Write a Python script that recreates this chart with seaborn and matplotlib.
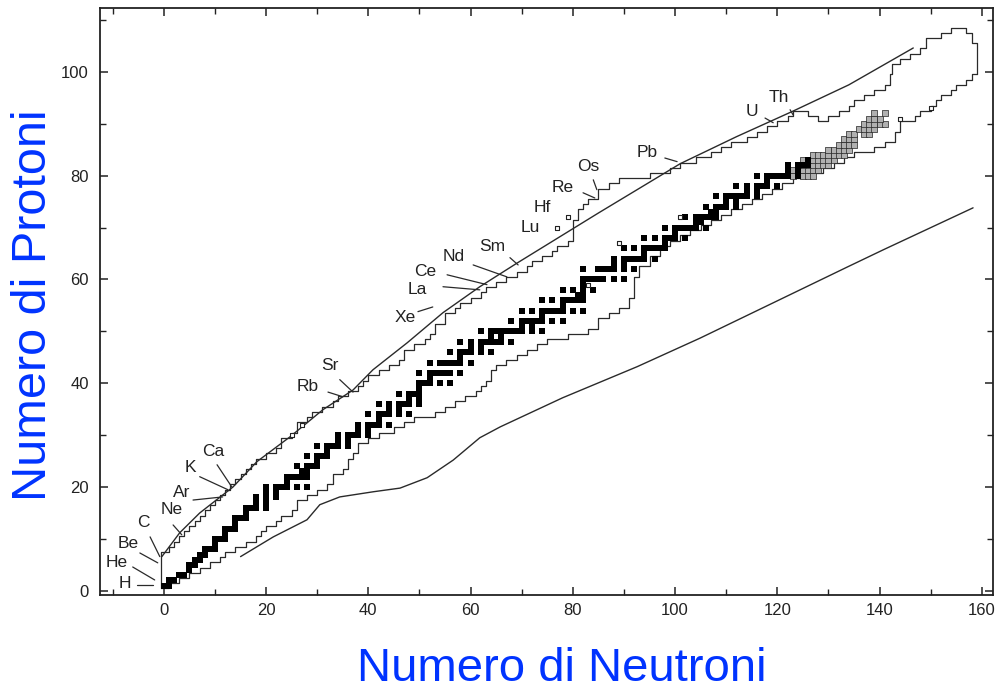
import numpy as np
import pandas as pd
import matplotlib
matplotlib.use("Agg")
import matplotlib.pyplot as plt
import seaborn as sns
from matplotlib.ticker import MultipleLocator

# stable nuclides: mass numbers for each element Z = 1..83
stable_z = list(range(1, 84))
stable_a = [
    [1, 2], [3, 4], [6, 7], [9], [10, 11], [12, 13], [14, 15], [16, 17, 18], [19], [20, 21, 22],
    [23], [24, 25, 26], [27], [28, 29, 30], [31], [32, 33, 34, 36], [35, 37], [36, 38, 40], [39, 41], [40, 42, 43, 44, 46, 48],
    [45], [46, 47, 48, 49, 50], [50, 51], [50, 52, 53, 54], [55], [54, 56, 57, 58], [59], [58, 60, 61, 62, 64], [63, 65], [64, 66, 67, 68, 70],
    [69, 71], [70, 72, 73, 74, 76], [75], [74, 76, 77, 78, 80, 82], [79, 81], [78, 80, 82, 83, 84, 86], [85, 87], [84, 86, 87, 88], [89], [90, 91, 92, 94, 96],
    [93], [92, 94, 95, 96, 97, 98, 100], [], [96, 98, 99, 100, 101, 102, 104], [103], [102, 104, 105, 106, 108, 110], [107, 109], [106, 108, 110, 111, 112, 113, 114, 116], [113, 115], [112, 114, 115, 116, 117, 118, 119, 120, 122, 124],
    [121, 123], [120, 122, 123, 124, 125, 126, 128, 130], [127], [124, 126, 128, 129, 130, 131, 132, 134, 136], [133], [130, 132, 134, 135, 136, 137, 138], [138, 139], [136, 138, 140, 142], [141], [142, 143, 144, 145, 146, 148, 150],
    [], [144, 147, 148, 149, 150, 152, 154], [151, 153], [152, 154, 155, 156, 157, 158, 160], [159], [156, 158, 160, 161, 162, 163, 164], [165], [162, 164, 166, 167, 168, 170], [169], [168, 170, 171, 172, 173, 174, 176],
    [175, 176], [174, 176, 177, 178, 179, 180], [180, 181], [180, 182, 183, 184, 186], [185, 187], [184, 186, 187, 188, 189, 190, 192], [191, 193], [190, 192, 194, 195, 196, 198], [197], [196, 198, 199, 200, 201, 202, 204],
    [203, 205], [204, 206, 207, 208], [209],
]

# long-lived heavy nuclides (hatched squares)
heavy_z = ([80] * 4 + [81] * 6 + [82] * 7 + [83] * 7 + [84] * 7 + [85] * 5 + [86] * 4
           + [87] * 3 + [88] * 4 + [89] * 4 + [90] * 5 + [91] * 3 + [92] * 2)
heavy_n = [123, 125, 126, 127,
           123, 124, 125, 126, 127, 128,
           124, 125, 126, 127, 128, 129, 130,
           125, 126, 127, 128, 129, 130, 131,
           127, 128, 129, 130, 131, 132, 133,
           130, 131, 132, 133, 134,
           132, 133, 134, 135,
           133, 134, 135,
           134, 135, 137, 138,
           136, 137, 138, 139,
           137, 138, 139, 140, 141,
           138, 139, 140,
           139, 141]

# isolated open squares
open_n = [25, 27, 77, 79, 83, 89, 101, 144, 150]
open_z = [30, 32, 70, 72, 59, 67, 72, 91, 93]

# limits of known nuclides (stepped outline)
upper_n = [-0.5, -0.5, 1, 2, 3, 4, 5, 6, 7, 8, 9, 10, 11, 12, 13, 14, 15, 16, 17, 18,
           20, 22, 23, 25, 26, 28, 29, 31, 33, 34, 36, 38, 39, 40, 42, 44, 46, 47, 49, 51,
           52, 53, 55, 57, 58, 60, 62, 63, 65, 67, 69, 71, 72, 74, 76, 77, 79, 80, 81, 82,
           83, 85, 87, 89, 95, 99, 101, 104, 107, 109, 111, 114, 116, 118, 120, 122, 123, 126, 128, 130,
           132, 134, 135, 137, 139, 141, 142, 142.5, 144, 146, 148, 149, 152, 154, 156, 157, 158, 159]
upper_z = [0.5, 7.5, 8.5, 9.5, 10.5, 11.5, 12.5, 13.5, 14.5, 15.5, 16.5, 17.5, 18.5, 19.5, 20.5, 21.5, 22.5, 23.5, 24.5, 25.5,
           26.5, 27.5, 29.5, 30.5, 32.5, 33.5, 34.5, 35.5, 36.5, 37.5, 38.5, 39.5, 40.5, 41.5, 42.5, 43.5, 44.5, 46.5, 47.5, 48.5,
           49.5, 51.5, 53.5, 54.5, 55.5, 56.5, 57.5, 58.5, 59.5, 60.5, 61.5, 62.5, 63.5, 64.5, 65.5, 66.5, 67.5, 71.5, 73.5, 74.5,
           75.5, 77.5, 78.5, 79.5, 80.5, 81.5, 82.5, 83.5, 84.5, 85.5, 86.5, 87.5, 88.5, 89.5, 90.5, 91.5, 92.5, 91.5, 90.5, 91.5,
           92.5, 93.5, 94.5, 95.5, 96.5, 97.5, 99.5, 101.5, 102.5, 103.5, 104.5, 106.5, 107.5, 108.5, 108.5, 107.5, 105.5, 99.5]

lower_n = [-0.5, 1, 3, 5, 7, 9, 11, 12, 14, 16, 18, 19, 20, 22, 23, 25, 26, 28, 30, 32,
           33, 35, 36, 37, 38, 40, 42, 45, 47, 49, 51, 53, 55, 57, 59, 61, 62, 63, 64, 65,
           67, 69, 71, 73, 75, 77, 79, 81, 83, 85, 87, 89, 91, 92, 93, 95, 97, 99, 101, 103,
           105, 107, 109, 111, 113, 115, 117, 119, 121, 123, 125, 127, 129, 131, 133, 135, 137, 139, 141, 143,
           144, 145, 147, 148, 150, 151, 152, 154, 155, 157, 158, 159]
lower_z = [0.5, 1.5, 2.5, 3.5, 4.5, 5.5, 6.5, 7.5, 8.5, 9.5, 10.5, 11.5, 12.5, 13.5, 14.5, 15.5, 17.5, 18.5, 19.5, 20.5,
           22.5, 23.5, 25.5, 26.5, 28.5, 29.5, 30.5, 31.5, 32.5, 33.5, 33.5, 34.5, 35.5, 36.5, 37.5, 38.5, 39.5, 40.5, 42.5, 43.5,
           44.5, 45.5, 46.5, 47.5, 48.5, 48.5, 49.5, 49.5, 50.5, 52.5, 53.5, 54.5, 56.5, 60.5, 62.5, 64.5, 66.5, 67.5, 68.5, 69.5,
           70.5, 71.5, 72.5, 73.5, 74.5, 75.5, 76.5, 77.5, 78.5, 79.5, 80.5, 80.5, 81.5, 82.5, 83.5, 84.5, 84.5, 85.5, 86.5, 88.5,
           90.5, 90.5, 91.5, 92.5, 93.5, 94.5, 95.5, 96.5, 97.5, 98.5, 99.5, 99.5]

# predicted drip lines
pdrip_n = [-0.4, 3.1, 7, 13.5, 18.2, 24.7, 31.1, 37, 40.9, 47.6, 54.6, 61.8, 69, 85, 101, 112, 123, 134, 146.6]
pdrip_z = [6.6, 11.2, 15, 20, 24.9, 29.7, 34.9, 38.7, 42.6, 47.8, 53.6, 58.6, 63.1, 72.8, 82.3, 87.5, 92.4, 97.5, 104.6]
ndrip_n = [15, 21.4, 28, 30.5, 34.4, 41, 46.2, 51.5, 56.6, 61.8, 65.8, 78, 92.6, 104.9, 119.2, 133.7, 140.7, 158.3]
ndrip_z = [6.6, 10.4, 13.7, 16.6, 18.1, 19.1, 19.8, 21.8, 25.2, 29.5, 31.6, 37.2, 43.2, 48.7, 55.5, 62.4, 65.7, 73.8]

# element labels: name, text position, leader line (from -> to)
labels = [
    ("H", -7.6, 1.5, (-5.3, 1.2), (-2.2, 1.2)),
    ("He", -9.2, 5.4, (-6.1, 4.6), (-1.8, 2.1)),
    ("Be", -7.0, 9.2, (-4.7, 7.3), (-1.2, 5.4)),
    ("C", -4.1, 13.1, (-2.7, 10.4), (-0.8, 6.6)),
    ("Ne", 1.6, 15.6, (1.8, 12.7), (3.5, 10.8)),
    ("Ar", 3.5, 18.9, (5.7, 17.5), (11.5, 18.1)),
    ("K", 5.1, 23.7, (7.0, 22.0), (12.5, 19.5)),
    ("Ca", 9.6, 26.8, (10.4, 24.3), (13.3, 20.0)),
    ("Rb", 28.2, 39.3, (32.1, 38.3), (35.0, 37.4)),
    ("Sr", 32.5, 43.5, (34.4, 40.7), (37.0, 38.3)),
    ("Xe", 47.2, 52.6, (49.7, 53.8), (52.6, 54.7)),
    ("La", 49.5, 58.0, (54.6, 58.6), (61.8, 58.0)),
    ("Ce", 51.1, 61.5, (55.4, 60.9), (63.2, 59.0)),
    ("Nd", 56.6, 64.4, (60.5, 62.8), (67.1, 60.5)),
    ("Sm", 64.2, 66.3, (67.7, 64.2), (69.3, 62.8)),
    ("Lu", 71.6, 70.1, None, None),
    ("Hf", 74.0, 73.8, None, None),
    ("Re", 78.1, 77.8, (82.0, 76.7), (84.3, 75.7)),
    ("Os", 83.0, 81.7, (84.0, 79.2), (84.7, 77.3)),
    ("Pb", 94.5, 84.4, (98.0, 83.4), (100.4, 82.7)),
    ("U", 115.1, 92.3, (117.6, 91.1), (119.2, 90.2)),
    ("Th", 120.2, 95.0, (122.5, 92.7), (123.1, 91.7)),
]

sns.set_theme(style="ticks")
plt.rcParams["font.family"] = ["Liberation Sans", "DejaVu Sans"]

stable = pd.DataFrame(
    [(a - z, z) for z, masses in zip(stable_z, stable_a) for a in masses],
    columns=["N", "Z"])

fig = plt.figure(figsize=(9.99, 6.91), dpi=100)
ax = fig.add_axes([0.1001, 0.1389, 0.8939, 0.8495])

line_col = "#2a2a2a"
sns.lineplot(x=upper_n, y=upper_z, sort=False, estimator=None, drawstyle="steps-post",
             color=line_col, linewidth=0.9, ax=ax)
sns.lineplot(x=lower_n, y=lower_z, sort=False, estimator=None, drawstyle="steps-post",
             color=line_col, linewidth=0.9, ax=ax)
sns.lineplot(x=pdrip_n, y=pdrip_z, sort=False, estimator=None, color=line_col, linewidth=1.0, ax=ax)
sns.lineplot(x=ndrip_n, y=ndrip_z, sort=False, estimator=None, color=line_col, linewidth=1.0, ax=ax)

sns.scatterplot(x=heavy_n, y=heavy_z, marker="s", s=18, color="#b0b0b0",
                edgecolor="#222222", linewidth=0.5, ax=ax, zorder=3)
sns.scatterplot(data=stable, x="N", y="Z", marker="s", s=22, color="black",
                linewidth=0, ax=ax, zorder=4)
sns.scatterplot(x=open_n, y=open_z, marker="s", s=10, color="white",
                edgecolor="#222222", linewidth=0.8, ax=ax, zorder=4)

for name, tx, ty, p0, p1 in labels:
    ax.text(tx, ty, name, fontsize=12.5, color="#222222", ha="center", va="center")
    if p0 is not None:
        ax.plot([p0[0], p1[0]], [p0[1], p1[1]], color=line_col, linewidth=0.9)

ax.set_xlim(-12.5, 162.2)
ax.set_ylim(-0.8, 112.3)
ax.set_xticks(range(0, 161, 20))
ax.set_yticks(range(0, 101, 20))
ax.xaxis.set_minor_locator(MultipleLocator(10))
ax.yaxis.set_minor_locator(MultipleLocator(10))
ax.tick_params(which="both", direction="in", top=True, right=True,
               colors="#222222", labelsize=12)
ax.tick_params(which="major", length=6, width=1.1, pad=6)
ax.tick_params(which="minor", length=4.5, width=1.0)
ax.tick_params(axis="y", pad=8)
ax.set_xlabel("")
ax.set_ylabel("")
for sp in ax.spines.values():
    sp.set_linewidth(1.3)
    sp.set_color("#222222")

fig.text(0.5626, 0.014, "Numero di Neutroni", fontsize=34, color="#0033ff",
         ha="center", va="baseline")
fig.text(0.034, 0.558, "Numero di Protoni", fontsize=35, color="#0033ff",
         ha="center", va="center", rotation=90)

fig.savefig("out.png", dpi=100, facecolor="white")
